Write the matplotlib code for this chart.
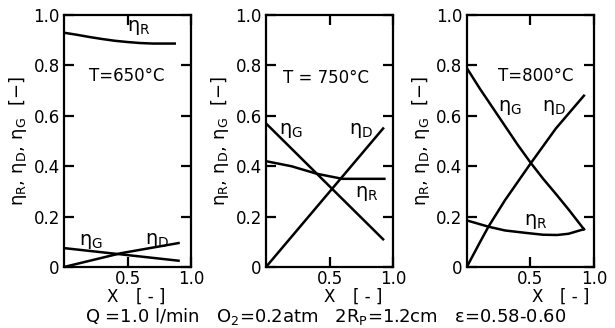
import matplotlib
matplotlib.use("Agg")
import matplotlib.pyplot as plt

plt.rcParams['font.family'] = ['DejaVu Sans']

# T = 650 C
x_r650 = [0.0, 0.1, 0.2, 0.3, 0.4, 0.5, 0.6, 0.7, 0.8, 0.87]
eta_r650 = [0.93, 0.922, 0.913, 0.905, 0.898, 0.893, 0.889, 0.887, 0.887, 0.887]
x_d650 = [0.0, 0.45, 0.9]
eta_d650 = [0.0, 0.055, 0.095]
x_g650 = [0.0, 0.9]
eta_g650 = [0.075, 0.025]

# T = 750 C
x_r750 = [0.0, 0.2, 0.4, 0.5, 0.6, 0.8, 0.93]
eta_r750 = [0.42, 0.40, 0.37, 0.36, 0.35, 0.35, 0.35]
x_d750 = [0.0, 0.92]
eta_d750 = [0.0, 0.55]
x_g750 = [0.0, 0.92]
eta_g750 = [0.57, 0.11]

# T = 800 C
x_r800 = [0.0, 0.17, 0.3, 0.47, 0.6, 0.71, 0.8, 0.92]
eta_r800 = [0.185, 0.16, 0.145, 0.135, 0.128, 0.127, 0.132, 0.15]
x_d800 = [0.0, 0.1, 0.17, 0.3, 0.5, 0.7, 0.92]
eta_d800 = [0.0, 0.095, 0.16, 0.265, 0.41, 0.55, 0.68]
x_g800 = [0.0, 0.1, 0.2, 0.3, 0.4, 0.5, 0.6, 0.7, 0.8, 0.92]
eta_g800 = [0.79, 0.71, 0.635, 0.56, 0.485, 0.415, 0.35, 0.29, 0.228, 0.15]

temps = ['T=650°C', 'T = 750°C', 'T=800°C']
y_ticks = [0.0, 0.2, 0.4, 0.6, 0.8, 1.0]
y_ticklabels = ['0', '0.2', '0.4', '0.6', '0.8', '1.0']

panels = [
    dict(r=(x_r650, eta_r650), d=(x_d650, eta_d650), g=(x_g650, eta_g650),
         lr=(0.59, 0.95), ld=(0.73, 0.107), lg=(0.21, 0.10), lt=(0.49, 0.76), lx=0.38),
    dict(r=(x_r750, eta_r750), d=(x_d750, eta_d750), g=(x_g750, eta_g750),
         lr=(0.79, 0.29), ld=(0.75, 0.54), lg=(0.20, 0.54), lt=(0.47, 0.75), lx=0.5),
    dict(r=(x_r800, eta_r800), d=(x_d800, eta_d800), g=(x_g800, eta_g800),
         lr=(0.54, 0.18), ld=(0.69, 0.635), lg=(0.34, 0.635), lt=(0.54, 0.76), lx=0.55),
]
lefts = [0.104, 0.4325, 0.759]

fig = plt.figure(figsize=(6.15, 3.28), dpi=100)
for left, t, p in zip(lefts, temps, panels):
    ax = fig.add_axes([left, 0.186, 0.207, 0.768])
    for key in ('r', 'd', 'g'):
        ax.plot(p[key][0], p[key][1], color='black', lw=1.8)
    ax.set_xlim(0, 1)
    ax.set_ylim(0, 1)
    for s in ax.spines.values():
        s.set_linewidth(1.6)
    ax.set_yticks(y_ticks)
    ax.set_yticklabels(y_ticklabels)
    ax.set_xticks([0.5, 1.0])
    ax.set_xticklabels(['0.5', '1.0'])
    ax.tick_params(direction='in', length=7, width=1.6, top=True, right=True,
                   labelsize=12, pad=3)
    ax.tick_params(axis='x', pad=2)
    ax.set_ylabel(r'$\mathregular{η_R,\,η_D,\,η_G\ \ [-]}$', fontsize=13, labelpad=3)
    ax.text(*p['lr'], r'$\mathregular{η_R}$', fontsize=14, ha='center', va='center')
    ax.text(*p['ld'], r'$\mathregular{η_D}$', fontsize=14, ha='center', va='center')
    ax.text(*p['lg'], r'$\mathregular{η_G}$', fontsize=14, ha='center', va='center')
    ax.text(*p['lt'], t, fontsize=12, ha='center', va='center')
    ax.text(p['lx'], -0.12, 'X', fontsize=12, ha='center', va='center',
            transform=ax.transAxes)
    ax.text(p['lx'] + 0.3, -0.12, '[ - ]', fontsize=12, ha='center', va='center',
            transform=ax.transAxes)

fig.text(0.53, 0.035,
         r'Q =1.0 l/min   O$\mathregular{_2}$=0.2atm   2R$\mathregular{_P}$=1.2cm   ε=0.58-0.60',
         fontsize=13, ha='center', va='center')

fig.savefig('out.png', dpi=100)
